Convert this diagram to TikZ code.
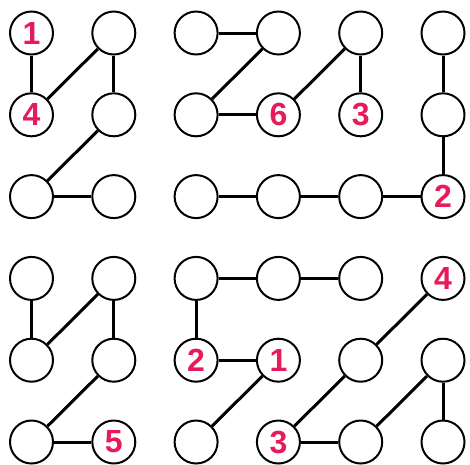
\documentclass[tikz,border=0pt]{standalone}
\usepackage{fontspec}
\setmainfont{Liberation Sans}
\usepackage{tikz}

\definecolor{digitred}{RGB}{232,27,90}

\tikzset{
    dot/.style={circle, draw=black, line width=2pt, minimum size=43pt, inner sep=0pt},
    digit/.style={text=digitred, font=\fontsize{32}{32}\selectfont\bfseries, inner sep=0pt},
    link/.style={line width=3pt}
}

\begin{document}
\begin{tikzpicture}[x=82.3pt, y=-81.8pt]
    \useasboundingbox (50.8pt,-48.8pt) rectangle (520.8pt,-512.8pt);
    % the grid of circles
    \foreach \c in {1,...,6}
    {
        \foreach \r in {1,...,6}
        {
            \node[dot] (n\c\r) at (\c,\r) {};
        }
    }
    % numbers
    \foreach \c/\r/\t in {1/1/1,1/2/4,4/2/6,5/2/3,6/3/2,2/6/5,3/5/2,4/5/1,6/4/4,4/6/3}
    {
        \node[digit] (d\c\r) at (n\c\r) {\t};
    }
    % paths
    \foreach \a/\b in {11/12,21/12,21/22,22/13,13/23,
                       31/41,41/32,32/42,51/42,51/52,61/62,62/63,33/43,43/53,53/63,
                       14/15,24/15,24/25,25/16,16/26,
                       34/44,44/54,34/35,35/45,45/36,64/55,55/46,46/56,65/56,65/66}
    {
        \draw[link] (n\a) -- (n\b);
    }
\end{tikzpicture}
\end{document}
